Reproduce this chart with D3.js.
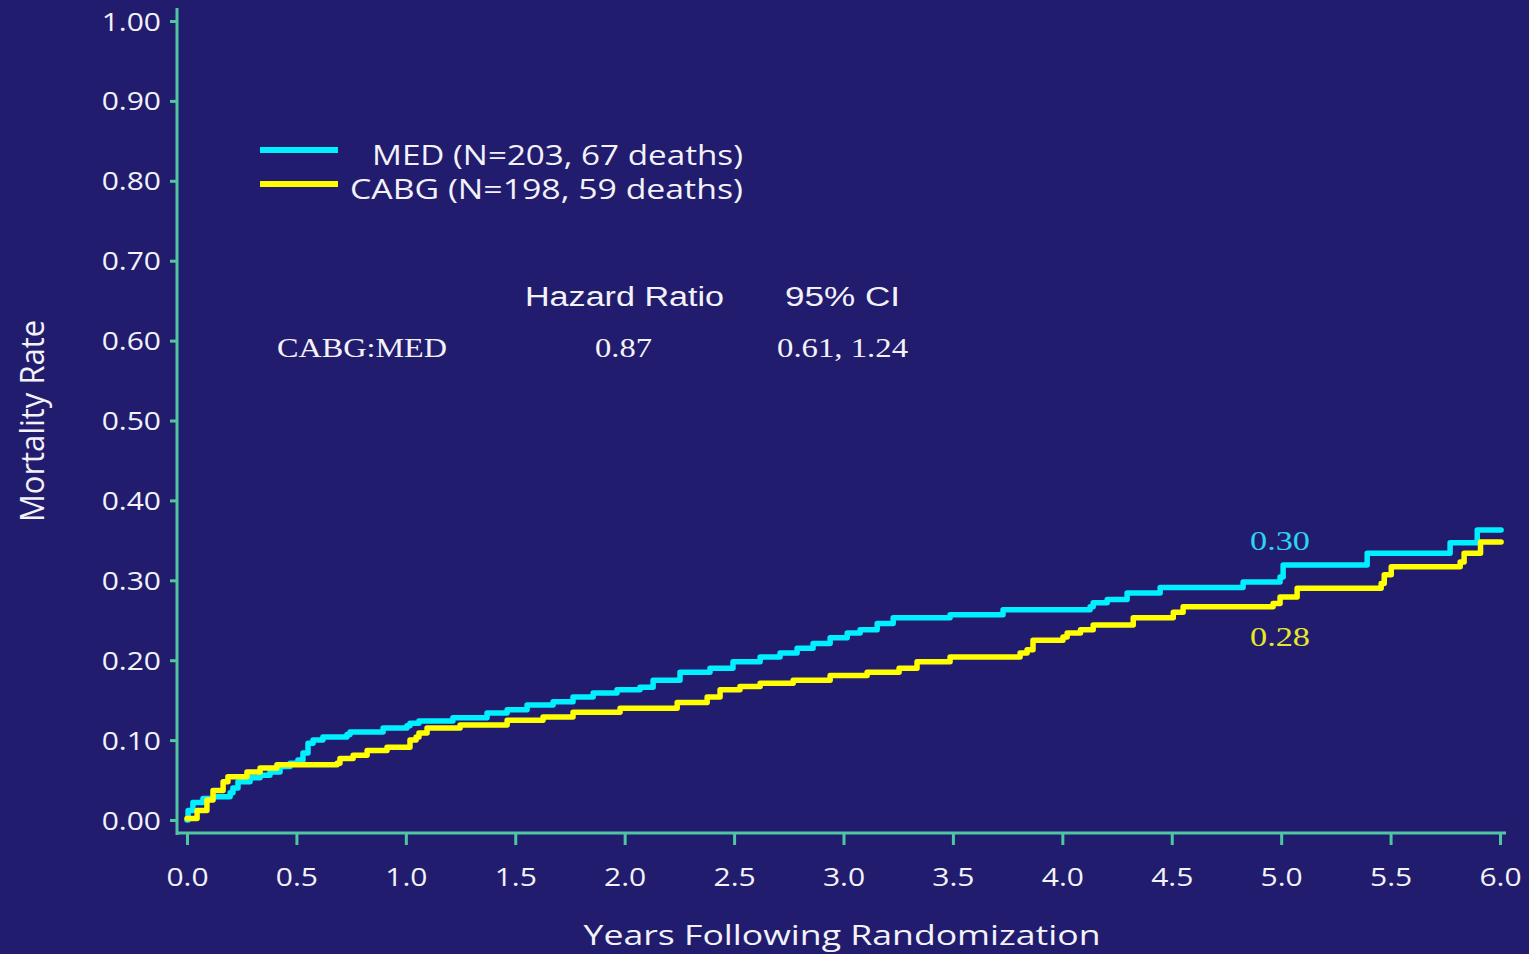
<!DOCTYPE html>
<html>
<head>
<meta charset="utf-8">
<script src="https://cdn.jsdelivr.net/npm/d3@7"></script>
<style>
    html, body { margin: 0; padding: 0; background: #221c6f; }
    svg { display: block; }
</style>
</head>
<body>
<svg id="chart" width="1529" height="954"></svg>
<script>
// Kaplan-Meier style mortality curves
const medTimes = [0, 0.005, 0.027, 0.073, 0.119, 0.197, 0.210, 0.233, 0.288, 0.334, 0.379, 0.425, 0.471, 0.507,
    0.530, 0.553, 0.576, 0.621, 0.731, 0.745, 0.896, 1.005, 1.019, 1.060, 1.215, 1.371, 1.463, 1.554, 1.673,
    1.764, 1.856, 1.965, 2.070, 2.130, 2.253, 2.390, 2.495, 2.619, 2.710, 2.788, 2.861, 2.939, 3.017, 3.076,
    3.154, 3.227, 3.487, 3.729, 4.127, 4.141, 4.205, 4.296, 4.447, 4.826, 4.995, 5.009, 5.393, 5.772, 5.896, 6.005];
const medRates = [0, 0.012, 0.022, 0.027, 0.029, 0.034, 0.040, 0.048, 0.053, 0.056, 0.060, 0.067, 0.071, 0.075,
    0.084, 0.096, 0.100, 0.104, 0.107, 0.110, 0.115, 0.118, 0.121, 0.124, 0.128, 0.134, 0.138, 0.144, 0.148,
    0.154, 0.159, 0.163, 0.166, 0.175, 0.185, 0.190, 0.198, 0.204, 0.209, 0.215, 0.221, 0.228, 0.234, 0.238,
    0.246, 0.253, 0.257, 0.263, 0.267, 0.272, 0.276, 0.284, 0.291, 0.298, 0.304, 0.319, 0.334, 0.347, 0.363, 0.363];

const cabgTimes = [0, 0.046, 0.091, 0.119, 0.165, 0.187, 0.274, 0.334, 0.411, 0.686, 0.699, 0.759, 0.823, 0.914,
    1.019, 1.047, 1.060, 1.097, 1.248, 1.463, 1.627, 1.764, 1.979, 2.240, 2.377, 2.436, 2.527, 2.619, 2.770,
    2.939, 3.108, 3.254, 3.336, 3.487, 3.807, 3.839, 3.866, 4.003, 4.022, 4.083, 4.141, 4.324, 4.507, 4.552,
    4.963, 4.995, 5.073, 5.457, 5.471, 5.503, 5.818, 5.836, 5.911, 6.005];
const cabgRates = [0.002, 0.012, 0.025, 0.037, 0.048, 0.054, 0.060, 0.065, 0.069, 0.071, 0.077, 0.081, 0.087, 0.091,
    0.100, 0.104, 0.109, 0.115, 0.119, 0.125, 0.129, 0.135, 0.140, 0.147, 0.154, 0.163, 0.167, 0.171, 0.175,
    0.181, 0.185, 0.190, 0.198, 0.204, 0.209, 0.213, 0.225, 0.229, 0.234, 0.238, 0.244, 0.253, 0.260, 0.267,
    0.271, 0.279, 0.290, 0.296, 0.307, 0.317, 0.323, 0.334, 0.348, 0.348];

const seriesNames = ["MED (N=203, 67 deaths)", "CABG (N=198, 59 deaths)"];
const seriesColors = ["#00f0ff", "#ffff00"];

const xTicks = [0, 0.5, 1, 1.5, 2, 2.5, 3, 3.5, 4, 4.5, 5, 5.5, 6];
const yTicks = [0, 0.1, 0.2, 0.3, 0.4, 0.5, 0.6, 0.7, 0.8, 0.9, 1.0];

const hrHeader = ["Hazard  Ratio", "95%  CI"];
const hrRow = ["CABG:MED", "0.87", "0.61,  1.24"];
const fiveYear = ["0.30", "0.28"];

const axisColor = "#4fc6a2",
    textColor = "#f2f2f8",
    stretch = 1.2;   // the picture is wider than it was drawn

let svg = d3.select("#chart");

svg.append("rect")
    .attr("width", 1529)
    .attr("height", 954)
    .attr("fill", "#221c6f");

let x = d3.scaleLinear().domain([0, 6]).range([187, 1500]);
let y = d3.scaleLinear().domain([0, 1]).range([820, 21]);

// Axes
let yAxis = svg.append("g")
    .attr("transform", "translate(177,0)")
    .call(d3.axisLeft(y).tickValues(yTicks).tickFormat(d3.format(".2f")).tickSize(7).tickSizeOuter(0));
let xAxis = svg.append("g")
    .attr("transform", "translate(0,833)")
    .call(d3.axisBottom(x).tickValues(xTicks).tickFormat(d3.format(".1f")).tickSize(12).tickSizeOuter(0));

[xAxis, yAxis].forEach(a => {
    a.select(".domain").remove();
    a.selectAll(".tick line").attr("stroke", axisColor).attr("stroke-width", 3);
    a.selectAll(".tick text")
        .attr("fill", textColor)
        .style("font-family", "'Open Sans', sans-serif")
        .style("font-size", "25px");
});
yAxis.selectAll(".tick text")
    .attr("x", 0)
    .attr("dy", "0.36em")
    .attr("transform", "translate(-16,0) scale(" + stretch + ",1)");
xAxis.selectAll(".tick text")
    .attr("y", 0)
    .attr("dy", 0)
    .attr("transform", "translate(0,53) scale(" + stretch + ",1)");

svg.append("line")
    .attr("x1", 177).attr("x2", 177)
    .attr("y1", 8).attr("y2", 835)
    .attr("stroke", axisColor).attr("stroke-width", 3);
svg.append("line")
    .attr("x1", 176).attr("x2", 1506)
    .attr("y1", 833).attr("y2", 833)
    .attr("stroke", axisColor).attr("stroke-width", 3);

// Titles
function label(txt, px, py, opts) {
    let t = svg.append("text")
        .attr("transform", "translate(" + px + "," + py + ") scale(" + stretch + ",1)")
        .attr("text-anchor", opts.anchor || "start")
        .attr("fill", opts.color || textColor)
        .style("font-family", opts.font || "'Open Sans', sans-serif")
        .style("font-size", opts.size + "px")
        .text(txt);
    if (opts.len) {
        t.attr("textLength", opts.len).attr("lengthAdjust", "spacingAndGlyphs");
    }
    return t;
}

label("Years Following Randomization", 842, 945, {anchor: "middle", size: 28, len: 517 / stretch});
svg.append("text")
    .attr("transform", "translate(44,421) scale(" + stretch + ",1) rotate(-90)")
    .attr("text-anchor", "middle")
    .attr("fill", textColor)
    .style("font-family", "'Open Sans', sans-serif")
    .style("font-size", "28px")
    .attr("textLength", 202)
    .attr("lengthAdjust", "spacingAndGlyphs")
    .text("Mortality Rate");

// Curves
let line = d3.line()
    .x(d => x(d[0]))
    .y(d => y(d[1]))
    .curve(d3.curveStepAfter);

let curves = [
    d3.zip(medTimes, medRates),
    d3.zip(cabgTimes, cabgRates)
];

svg.selectAll(".curve")
    .data(curves)
    .join("path")
    .attr("class", "curve")
    .attr("d", line)
    .attr("fill", "none")
    .attr("stroke", (d, i) => seriesColors[i])
    .attr("stroke-width", 5.5)
    .attr("stroke-linejoin", "round")
    .attr("stroke-linecap", "round");

// Legend
let legend = svg.selectAll(".legend")
    .data(seriesNames)
    .join("g")
    .attr("class", "legend")
    .attr("transform", (d, i) => "translate(0," + (150 + i * 34) + ")");
legend.append("line")
    .attr("x1", 260).attr("x2", 338)
    .attr("stroke", (d, i) => seriesColors[i])
    .attr("stroke-width", 6);
legend.append("text")
    .attr("transform", (d, i) => "translate(" + (i === 0 ? 372 : 350) + ",15) scale(" + stretch + ",1)")
    .attr("fill", textColor)
    .style("font-family", "'Open Sans', sans-serif")
    .style("font-size", "27px")
    .attr("textLength", (d, i) => (i === 0 ? 371 : 393) / stretch)
    .attr("lengthAdjust", "spacingAndGlyphs")
    .text(d => d);

// Hazard ratio table
label(hrHeader[0], 525, 306, {size: 28, font: "'Liberation Sans', Arial, sans-serif", len: 199 / stretch});
label(hrHeader[1], 785, 306, {size: 28, font: "'Liberation Sans', Arial, sans-serif", len: 115 / stretch});
label(hrRow[0], 277, 357, {size: 28, font: "'Liberation Serif', serif", len: 170 / stretch});
label(hrRow[1], 595, 357, {size: 28, font: "'Liberation Serif', serif", len: 57 / stretch});
label(hrRow[2], 777, 357, {size: 28, font: "'Liberation Serif', serif", len: 131 / stretch});

// Five-year rates
label(fiveYear[0], 1250, 550, {size: 27, font: "'Liberation Serif', serif", color: "#2ed3f2", len: 60 / stretch});
label(fiveYear[1], 1250, 646, {size: 27, font: "'Liberation Serif', serif", color: "#e8e82a", len: 60 / stretch});
</script>
</body>
</html>
